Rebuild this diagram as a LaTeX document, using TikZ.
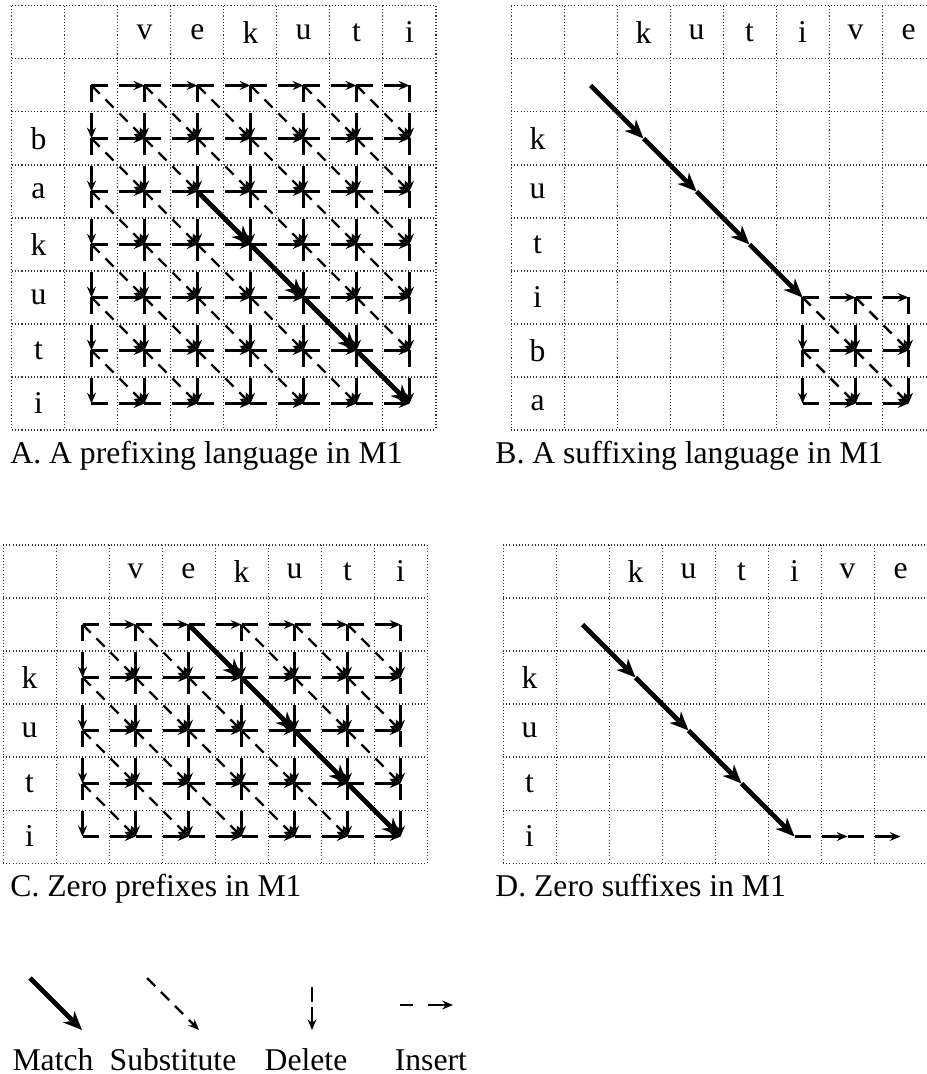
\documentclass[tikz,border=0pt]{standalone}
\usepackage{fontspec}
\setmainfont{Liberation Serif}
\usetikzlibrary{arrows.meta}

\begin{document}
\begin{tikzpicture}[
  gridline/.style={black!80, line width=0.55pt, dash pattern=on 0.6pt off 1.1pt},
  letter/.style={font=\fontsize{17}{20}\selectfont, inner sep=0pt},
  caption/.style={font=\fontsize{17}{20}\selectfont, anchor=base west, inner sep=0pt},
  legendtext/.style={font=\fontsize{17}{20}\selectfont, anchor=base, inner sep=0pt},
  smalltip/.style={-{Stealth[length=5.8pt,width=4.8pt,inset=2pt]}},
  insedge/.style={smalltip, line width=1.3pt, dash pattern=on 9pt off 6pt on 40pt off 1pt},
  deledge/.style={insedge},
  subedge/.style={smalltip, line width=1.3pt, dash pattern=on 6.2pt off 4.4pt},
  matchedge/.style={line width=2.5pt, -{Stealth[length=10pt,width=8.5pt,inset=3pt]}},
]
\useasboundingbox (0,0) rectangle (17.472,-20.264);

% A. prefixing language
\begin{scope}[shift={(0.226,-0.113)}]
\foreach \i in {0,...,8} \draw[gridline] (\i,0) -- (\i,-8);
\foreach \j in {0,...,8} \draw[gridline] (0,-\j) -- (8,-\j);
\foreach \lt [count=\i from 2] in {v,e,k,u,t,i} \node[letter] (A-top-\i) at (\i+0.5,-0.5) {\lt};
\foreach \lt [count=\j from 2] in {b,a,k,u,t,i} \node[letter] (A-left-\j) at (0.5,-\j-0.5) {\lt};
\foreach \i in {1,...,7} \foreach \j in {1,...,7} \coordinate (A-\i-\j) at (\i+0.5,-\j-0.5);
\foreach \i [count=\n from 2] in {1,...,6} \foreach \j in {1,...,7} \draw[insedge] (A-\i-\j) -- (A-\n-\j);
\foreach \i in {1,...,7} \foreach \j [count=\m from 2] in {1,...,6} \draw[deledge] (A-\i-\j) -- (A-\i-\m);
\foreach \i [count=\n from 2] in {1,...,6} \foreach \j [count=\m from 2] in {1,...,6} \draw[subedge] (A-\i-\j) -- (A-\n-\m);
\foreach \i [count=\n from 4] in {3,...,6} \draw[matchedge] (A-\i-\i) -- (A-\n-\n);
\end{scope}

% B. suffixing language
\begin{scope}[shift={(9.642,-0.113)}]
\foreach \i in {0,...,8} \draw[gridline] (\i,0) -- (\i,-8);
\foreach \j in {0,...,8} \draw[gridline] (0,-\j) -- (8,-\j);
\foreach \lt [count=\i from 2] in {k,u,t,i,v,e} \node[letter] (B-top-\i) at (\i+0.5,-0.5) {\lt};
\foreach \lt [count=\j from 2] in {k,u,t,i,b,a} \node[letter] (B-left-\j) at (0.5,-\j-0.5) {\lt};
\foreach \i in {1,...,7} \foreach \j in {1,...,7} \coordinate (B-\i-\j) at (\i+0.5,-\j-0.5);
\foreach \i [count=\n from 6] in {5,6} \foreach \j in {5,6,7} \draw[insedge] (B-\i-\j) -- (B-\n-\j);
\foreach \i in {5,6,7} \foreach \j [count=\m from 6] in {5,6} \draw[deledge] (B-\i-\j) -- (B-\i-\m);
\foreach \i [count=\n from 6] in {5,6} \foreach \j [count=\m from 6] in {5,6} \draw[subedge] (B-\i-\j) -- (B-\n-\m);
\foreach \i [count=\n from 2] in {1,...,4} \draw[matchedge] (B-\i-\i) -- (B-\n-\n);
\end{scope}

% C. zero prefixes
\begin{scope}[shift={(0.057,-10.283)}]
\foreach \i in {0,...,8} \draw[gridline] (\i,0) -- (\i,-6);
\foreach \j in {0,...,6} \draw[gridline] (0,-\j) -- (8,-\j);
\foreach \lt [count=\i from 2] in {v,e,k,u,t,i} \node[letter] (C-top-\i) at (\i+0.5,-0.5) {\lt};
\foreach \lt [count=\j from 2] in {k,u,t,i} \node[letter] (C-left-\j) at (0.5,-\j-0.5) {\lt};
\foreach \i in {1,...,7} \foreach \j in {1,...,5} \coordinate (C-\i-\j) at (\i+0.5,-\j-0.5);
\foreach \i [count=\n from 2] in {1,...,6} \foreach \j in {1,...,5} \draw[insedge] (C-\i-\j) -- (C-\n-\j);
\foreach \i in {1,...,7} \foreach \j [count=\m from 2] in {1,...,4} \draw[deledge] (C-\i-\j) -- (C-\i-\m);
\foreach \i [count=\n from 2] in {1,...,6} \foreach \j [count=\m from 2] in {1,...,4} \draw[subedge] (C-\i-\j) -- (C-\n-\m);
\foreach \i/\j [count=\m from 2, count=\n from 4] in {3/1,4/2,5/3,6/4} \draw[matchedge] (C-\i-\j) -- (C-\n-\m);
\end{scope}

% D. zero suffixes
\begin{scope}[shift={(9.491,-10.283)}]
\foreach \i in {0,...,8} \draw[gridline] (\i,0) -- (\i,-6);
\foreach \j in {0,...,6} \draw[gridline] (0,-\j) -- (8,-\j);
\foreach \lt [count=\i from 2] in {k,u,t,i,v,e} \node[letter] (D-top-\i) at (\i+0.5,-0.5) {\lt};
\foreach \lt [count=\j from 2] in {k,u,t,i} \node[letter] (D-left-\j) at (0.5,-\j-0.5) {\lt};
\foreach \i in {1,...,7} \foreach \j in {1,...,5} \coordinate (D-\i-\j) at (\i+0.5,-\j-0.5);
\foreach \i [count=\n from 2] in {1,...,4} \draw[matchedge] (D-\i-\i) -- (D-\n-\n);
\draw[insedge] (D-5-5) -- (D-6-5);
\draw[insedge] (D-6-5) -- (D-7-5);
\end{scope}

% captions
\node[caption] (capA) at (0.19,-8.736) {A. A prefixing language in M1};
\node[caption] (capB) at (9.34,-8.736) {B. A suffixing language in M1};
\node[caption] (capC) at (0.19,-16.906) {C. Zero prefixes in M1};
\node[caption] (capD) at (9.34,-16.906) {D. Zero suffixes in M1};

% legend
\coordinate (m-from) at (0.566,-18.453);
\coordinate (m-to) at (1.547,-19.434);
\coordinate (s-from) at (2.774,-18.453);
\coordinate (s-to) at (3.755,-19.434);
\coordinate (d-from) at (5.887,-18.623);
\coordinate (d-to) at (5.887,-19.434);
\coordinate (i-from) at (7.547,-18.962);
\coordinate (i-to) at (8.547,-18.962);
\draw[matchedge] (m-from) -- (m-to);
\draw[subedge] (s-from) -- (s-to);
\draw[deledge, dash pattern=on 8pt off 2.7pt on 40pt off 1pt] (d-from) -- (d-to);
\draw[insedge, dash pattern=on 7pt off 8pt on 40pt off 1pt] (i-from) -- (i-to);
\node[legendtext] (matchlbl) at (1.0,-20.189) {Match};
\node[legendtext] (sublbl) at (3.264,-20.189) {Substitute};
\node[legendtext] (dellbl) at (5.774,-20.189) {Delete};
\node[legendtext] (inslbl) at (8.13,-20.189) {Insert};
\end{tikzpicture}
\end{document}
